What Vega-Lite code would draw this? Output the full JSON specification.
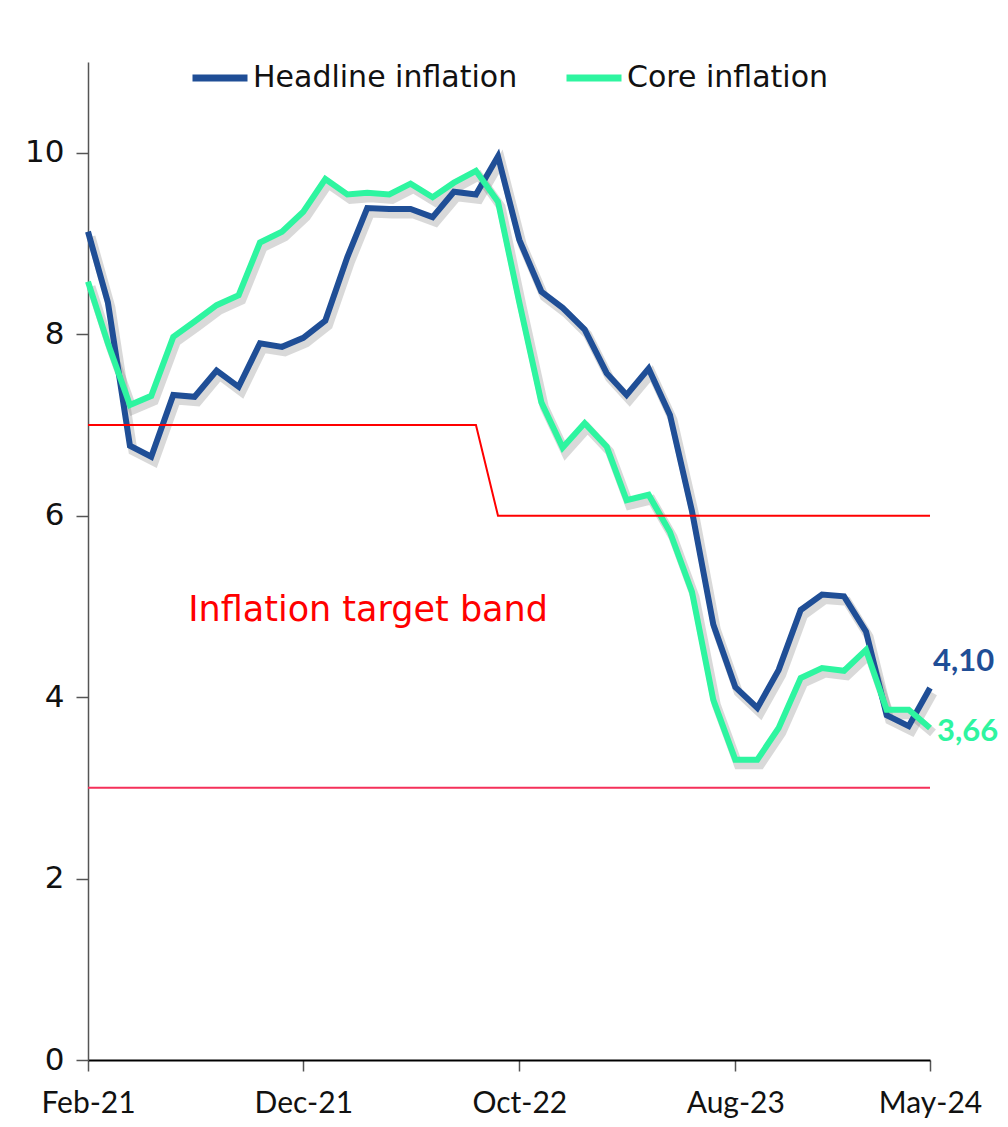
{
  "$schema": "https://vega.github.io/schema/vega-lite/v6.json",
  "autosize": {"type": "none"},
  "padding": {"left": 88, "top": 62, "right": 78, "bottom": 67},
  "width": 842,
  "height": 998,
  "background": "white",
  "config": {
    "font": "Lato",
    "view": {"stroke": null},
    "axis": {"labelFont": "Lato", "labelFontSize": 30, "labelColor": "#111111", "grid": false, "title": null}
  },
  "datasets": {
    "infl": [
      {"date": "2021-02-01", "Headline inflation": 9.13, "Core inflation": 8.58},
      {"date": "2021-03-01", "Headline inflation": 8.35, "Core inflation": 7.90},
      {"date": "2021-04-01", "Headline inflation": 6.77, "Core inflation": 7.22},
      {"date": "2021-05-01", "Headline inflation": 6.65, "Core inflation": 7.32},
      {"date": "2021-06-01", "Headline inflation": 7.33, "Core inflation": 7.97},
      {"date": "2021-07-01", "Headline inflation": 7.31, "Core inflation": 8.14},
      {"date": "2021-08-01", "Headline inflation": 7.60, "Core inflation": 8.32},
      {"date": "2021-09-01", "Headline inflation": 7.42, "Core inflation": 8.43},
      {"date": "2021-10-01", "Headline inflation": 7.90, "Core inflation": 9.01},
      {"date": "2021-11-01", "Headline inflation": 7.86, "Core inflation": 9.13},
      {"date": "2021-12-01", "Headline inflation": 7.96, "Core inflation": 9.35},
      {"date": "2022-01-01", "Headline inflation": 8.15, "Core inflation": 9.71},
      {"date": "2022-02-01", "Headline inflation": 8.85, "Core inflation": 9.54},
      {"date": "2022-03-01", "Headline inflation": 9.39, "Core inflation": 9.56},
      {"date": "2022-04-01", "Headline inflation": 9.38, "Core inflation": 9.54},
      {"date": "2022-05-01", "Headline inflation": 9.38, "Core inflation": 9.66},
      {"date": "2022-06-01", "Headline inflation": 9.29, "Core inflation": 9.51},
      {"date": "2022-07-01", "Headline inflation": 9.57, "Core inflation": 9.67},
      {"date": "2022-08-01", "Headline inflation": 9.54, "Core inflation": 9.80},
      {"date": "2022-09-01", "Headline inflation": 9.96, "Core inflation": 9.46},
      {"date": "2022-10-01", "Headline inflation": 9.04, "Core inflation": 8.35},
      {"date": "2022-11-01", "Headline inflation": 8.47, "Core inflation": 7.25},
      {"date": "2022-12-01", "Headline inflation": 8.29, "Core inflation": 6.75},
      {"date": "2023-01-01", "Headline inflation": 8.05, "Core inflation": 7.02},
      {"date": "2023-02-01", "Headline inflation": 7.57, "Core inflation": 6.76},
      {"date": "2023-03-01", "Headline inflation": 7.33, "Core inflation": 6.17},
      {"date": "2023-04-01", "Headline inflation": 7.62, "Core inflation": 6.23},
      {"date": "2023-05-01", "Headline inflation": 7.11, "Core inflation": 5.82},
      {"date": "2023-06-01", "Headline inflation": 6.05, "Core inflation": 5.16},
      {"date": "2023-07-01", "Headline inflation": 4.80, "Core inflation": 3.97},
      {"date": "2023-08-01", "Headline inflation": 4.11, "Core inflation": 3.31},
      {"date": "2023-09-01", "Headline inflation": 3.88, "Core inflation": 3.31},
      {"date": "2023-10-01", "Headline inflation": 4.30, "Core inflation": 3.66},
      {"date": "2023-11-01", "Headline inflation": 4.96, "Core inflation": 4.21},
      {"date": "2023-12-01", "Headline inflation": 5.13, "Core inflation": 4.32},
      {"date": "2024-01-01", "Headline inflation": 5.11, "Core inflation": 4.29},
      {"date": "2024-02-01", "Headline inflation": 4.72, "Core inflation": 4.52},
      {"date": "2024-03-01", "Headline inflation": 3.80, "Core inflation": 3.86},
      {"date": "2024-04-01", "Headline inflation": 3.68, "Core inflation": 3.86},
      {"date": "2024-05-01", "Headline inflation": 4.10, "Core inflation": 3.66}
    ],
    "band": [
      {"date": "2021-02-01", "value": 7, "line": "upper"},
      {"date": "2022-08-01", "value": 7, "line": "upper"},
      {"date": "2022-09-01", "value": 6, "line": "upper"},
      {"date": "2024-05-01", "value": 6, "line": "upper"},
      {"date": "2021-02-01", "value": 3, "line": "lower"},
      {"date": "2024-05-01", "value": 3, "line": "lower"}
    ],
    "ends": [
      {"date": "2024-05-01", "value": 4.10, "label": "4,10", "series": "Headline inflation"},
      {"date": "2024-05-01", "value": 3.66, "label": "3,66", "series": "Core inflation"}
    ],
    "note": [
      {"date": "2021-06-22", "value": 4.96, "label": "Inflation target band"}
    ]
  },
  "encoding": {
    "x": {
      "field": "date", "type": "temporal",
      "scale": {"type": "utc", "domain": [{"year": 2021, "month": 2, "date": 1, "utc": true}, {"year": 2024, "month": 5, "date": 1, "utc": true}]},
      "axis": {
        "values": [
          {"year": 2021, "month": 2, "date": 1, "utc": true},
          {"year": 2021, "month": 12, "date": 1, "utc": true},
          {"year": 2022, "month": 10, "date": 1, "utc": true},
          {"year": 2023, "month": 8, "date": 1, "utc": true},
          {"year": 2024, "month": 5, "date": 1, "utc": true}
        ],
        "format": "%b-%y",
        "domainColor": "#000000", "domainWidth": 2,
        "tickColor": "#555555", "tickWidth": 1.5, "tickSize": 11,
        "labelPadding": 17, "labelFlush": false, "labelOverlap": false
      }
    },
    "y": {
      "field": "value", "type": "quantitative",
      "scale": {"domain": [0, 11], "nice": false, "zero": true},
      "axis": {
        "values": [0, 2, 4, 6, 8, 10],
        "labelFont": "DejaVu Sans", "labelFontSize": 31,
        "domainColor": "#555555", "domainWidth": 1.5,
        "tickColor": "#555555", "tickWidth": 1.5, "tickSize": 12,
        "labelPadding": 12
      }
    }
  },
  "layer": [
    {
      "data": {"name": "infl"},
      "transform": [{"fold": ["Headline inflation", "Core inflation"], "as": ["series", "value"]}],
      "mark": {"type": "line", "color": "#777777", "opacity": 0.28, "strokeWidth": 9, "xOffset": 3, "yOffset": 5},
      "encoding": {"detail": {"field": "series"}}
    },
    {
      "data": {"name": "infl"},
      "transform": [{"fold": ["Headline inflation", "Core inflation"], "as": ["series", "value"]}],
      "mark": {"type": "line", "strokeWidth": 6},
      "encoding": {
        "color": {
          "field": "series", "type": "nominal",
          "scale": {"domain": ["Headline inflation", "Core inflation"], "range": ["#1F4E96", "#2EF5A0"]},
          "legend": {
            "title": null, "orient": "none", "direction": "horizontal",
            "legendX": 101, "legendY": -15,
            "symbolType": "stroke", "symbolSize": 3025, "symbolStrokeWidth": 7,
            "labelFont": "DejaVu Sans", "labelFontSize": 30, "labelColor": "#111111",
            "labelLimit": 0, "labelOffset": 2, "columnPadding": 34
          }
        }
      }
    },
    {
      "data": {"name": "band"},
      "transform": [{"filter": "datum.line === 'upper'"}],
      "mark": {"type": "line", "color": "#FF0000", "strokeWidth": 2},
      "encoding": {}
    },
    {
      "data": {"name": "band"},
      "transform": [{"filter": "datum.line === 'lower'"}],
      "mark": {"type": "line", "color": "#F5305A", "strokeWidth": 2},
      "encoding": {}
    },
    {
      "data": {"name": "ends"},
      "transform": [{"filter": "datum.series === 'Headline inflation'"}],
      "mark": {"type": "text", "align": "left", "baseline": "middle", "dx": 3, "dy": -26, "font": "Lato", "fontSize": 31, "fontWeight": "bold", "color": "#1F4E96"},
      "encoding": {"text": {"field": "label"}}
    },
    {
      "data": {"name": "ends"},
      "transform": [{"filter": "datum.series === 'Core inflation'"}],
      "mark": {"type": "text", "align": "left", "baseline": "middle", "dx": 7, "dy": 4, "font": "Lato", "fontSize": 31, "fontWeight": "bold", "color": "#2EF5A0"},
      "encoding": {"text": {"field": "label"}}
    },
    {
      "data": {"name": "note"},
      "mark": {"type": "text", "align": "left", "baseline": "middle", "font": "DejaVu Sans", "fontSize": 35, "color": "#FF0000"},
      "encoding": {"text": {"field": "label"}}
    }
  ]
}
